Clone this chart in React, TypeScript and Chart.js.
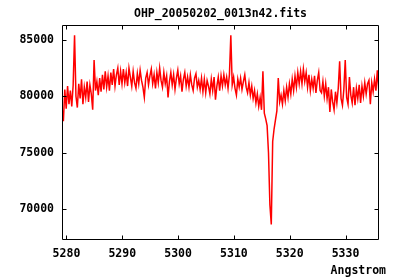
import { useEffect, useRef } from "react";
import { Chart, registerables } from "chart.js";

Chart.register(...registerables);

const TITLE = "OHP_20050202_0013n42.fits";
const X_LABEL = "Angstrom";
const WAVE_START = 5279.2;
const WAVE_STEP = 0.25;
const X_MIN = 5279.2;
const X_MAX = 5336;
const Y_MIN = 67285;
const Y_MAX = 86300;
const X_TICKS = [5280, 5290, 5300, 5310, 5320, 5330];
const Y_TICKS = [70000, 75000, 80000, 85000];

const FLUX = [
  79000, 77800, 80600, 78900, 80900, 79300, 80500, 79100, 81000, 85400,
  80000, 79000, 81100, 79800, 81500, 79300, 80800, 79900, 81300, 79500,
  81000, 80200, 78800, 83200, 80500,
  81300, 80100, 81600, 80400, 81900, 80600, 82200, 80800, 81800, 80500,
  82100, 81000, 82400, 80900, 81900, 82500, 81000, 82200, 81100, 82400,
  81200, 82100, 80900, 82500,
  81700, 80900, 82200, 81200, 80700, 82000, 81100, 82300, 81400, 80800, 79900,
  81600, 82100, 81000, 81800, 82400, 81100, 81900, 80700, 82100, 81200,
  82500, 81400, 80800, 82100, 81100, 81800, 79900, 81300, 82100, 81000,
  81900, 80600, 81600, 82300, 81100, 81800, 80400, 81500, 82100, 80900,
  81700, 80800, 81900, 81000, 80500, 81600, 82000, 80800, 81400,
  80600, 81600, 80400, 81500, 80300, 81400, 80900, 80200, 81500, 80500,
  81700, 79700, 80900, 81700, 80500, 81800, 80900, 81900, 81000, 81700,
  80700, 81900,
  85400,
  81000, 81700, 80700, 80100, 81500, 80800, 81600, 80600, 81300, 81900,
  80800, 80300, 81200, 80100, 80900, 79800, 80500, 79400, 80200, 79100,
  79900, 78800,
  82200, 78500, 78000, 77400, 75000, 70400, 68650, 76000, 77100, 77900,
  78700, 81600, 79500,
  80100, 79300, 80500, 79600, 80800, 79900, 81100, 80200, 81500, 80500,
  81800, 80800, 82100, 81100,
  82200, 81100, 82400, 81300, 82100, 80800, 81900, 80500, 81500, 80700,
  81800, 80300, 81400, 82100, 80500,
  80300, 81300, 80000, 81100, 79800, 80800, 78600, 80600, 79500, 78800,
  80400, 79400, 80700,
  83100, 79800, 79200, 80600, 83200, 79900, 79300, 81700, 80100, 79400,
  80800, 79200, 80700, 79800, 81000, 79400, 80900, 80000, 81200, 80200,
  81100, 81400, 79300, 81200, 80400, 81500, 80500, 82300, 80600,
];

const FONT_FAMILY = "'DejaVu Sans Mono', 'Liberation Mono', monospace";
const FONT = { family: FONT_FAMILY, size: 11.5, weight: "bold" as const, lineHeight: 1.2 };

export default function App() {
  const ref = useRef<HTMLCanvasElement>(null);

  useEffect(() => {
    document.body.style.margin = "0";
    const canvas = ref.current;
    if (!canvas) return;

    const points = FLUX.map((y, i) => ({ x: WAVE_START + i * WAVE_STEP, y }));

    const framePlugin = {
      id: "frame",
      afterDatasetsDraw(chart: any) {
        const { ctx, chartArea: a, scales } = chart;
        const L = Math.round(a.left) + 0.5;
        const R = Math.round(a.right) - 0.5;
        const T = Math.round(a.top) + 0.5;
        const B = Math.round(a.bottom) - 0.5;
        const tl = 4;
        ctx.save();
        ctx.strokeStyle = "#000";
        ctx.lineWidth = 1;
        ctx.beginPath();
        ctx.rect(L, T, R - L, B - T);
        for (const v of X_TICKS) {
          const px = Math.round(scales.x.getPixelForValue(v)) + 0.5;
          ctx.moveTo(px, B);
          ctx.lineTo(px, B - tl);
          ctx.moveTo(px, T);
          ctx.lineTo(px, T + tl);
        }
        for (const v of Y_TICKS) {
          const py = Math.round(scales.y.getPixelForValue(v)) + 0.5;
          ctx.moveTo(L, py);
          ctx.lineTo(L + tl, py);
          ctx.moveTo(R, py);
          ctx.lineTo(R - tl, py);
        }
        ctx.stroke();
        ctx.fillStyle = "#000";
        ctx.font = `bold ${FONT.size}px ${FONT_FAMILY}`;
        ctx.textAlign = "right";
        ctx.textBaseline = "middle";
        ctx.fillText(X_LABEL, 386, 271);
        ctx.restore();
      },
    };

    const chart = new Chart(canvas, {
      type: "line",
      data: {
        datasets: [
          {
            data: points,
            borderColor: "#ff0000",
            borderWidth: 1.5,
            pointRadius: 0,
            tension: 0,
            fill: false,
          },
        ],
      },
      options: {
        animation: false,
        responsive: false,
        events: [],
        layout: { padding: { left: 0, right: 21, top: 0, bottom: 0 } },
        plugins: {
          legend: { display: false },
          tooltip: { enabled: false },
          title: {
            display: true,
            fullSize: false,
            text: TITLE,
            color: "#000",
            font: FONT,
            padding: { top: 7, bottom: 4.2 },
          },
        },
        scales: {
          x: {
            type: "linear",
            min: X_MIN,
            max: X_MAX,
            grid: { display: false, drawTicks: false },
            border: { display: false },
            ticks: {
              color: "#000",
              font: FONT,
              padding: 7,
              maxRotation: 0,
              autoSkip: false,
              includeBounds: false,
              callback: (v: any) => String(v),
            },
            afterBuildTicks: (s: any) => {
              s.ticks = X_TICKS.map((value) => ({ value }));
            },
            afterFit: (s: any) => {
              s.height = 40;
            },
          },
          y: {
            type: "linear",
            min: Y_MIN,
            max: Y_MAX,
            grid: { display: false, drawTicks: false },
            border: { display: false },
            ticks: {
              color: "#000",
              font: FONT,
              padding: 8,
              autoSkip: false,
              includeBounds: false,
              callback: (v: any) => String(v),
            },
            afterBuildTicks: (s: any) => {
              s.ticks = Y_TICKS.map((value) => ({ value }));
            },
            afterFit: (s: any) => {
              s.width = 62;
            },
          },
        },
      },
      plugins: [framePlugin],
    });

    return () => chart.destroy();
  }, []);

  return <canvas ref={ref} width={400} height={280} style={{ display: "block" }} />;
}
